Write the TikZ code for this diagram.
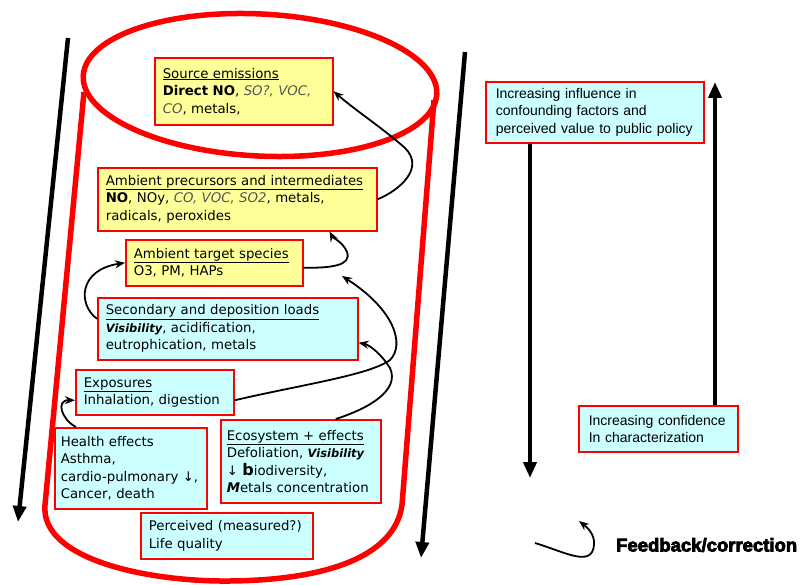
\documentclass[tikz,border=0pt]{standalone}
\usepackage{fontspec}
\setmainfont{DejaVu Sans}
\newfontfamily\arialfont{Liberation Sans}
\newfontfamily\heavyfont{Liberation Sans}[BoldFont={Liberation Sans Bold},BoldFeatures={FakeBold=4}]
\usetikzlibrary{arrows.meta}
\definecolor{boxyellow}{HTML}{FFFF99}
\definecolor{boxcyan}{HTML}{CCFFFF}
\definecolor{softtext}{HTML}{555555}
\newcommand{\vis}{{\fontsize{11.5}{17.5}\selectfont\bfseries\itshape Visibility}}

\begin{document}
\begin{tikzpicture}[x=1pt,y=-1pt,
  box/.style={draw=red,line width=1.6pt,anchor=north west,align=left,inner xsep=8pt,inner ysep=2pt,font=\fontsize{13.3}{17.5}\selectfont},
  ybox/.style={box,fill=boxyellow},
  cbox/.style={box,fill=boxcyan},
  rbox/.style={cbox,inner xsep=10pt,font=\arialfont\fontsize{14}{17.5}\selectfont},
  fb/.style={line width=1.8pt,-{Stealth[length=10pt,width=8pt]}},
  bigarrow/.style={line width=4.5pt,-{Triangle[length=16pt,width=13pt]}}]
  \useasboundingbox (0,0) rectangle (801,585);
  % cylinder
  \draw[red,line width=5.5pt] (260,85) ellipse [x radius=177,y radius=71,rotate=-3];
  \draw[red,line width=5.5pt,line join=round] (84,92) -- (45,505) .. controls (40,560) and (150,582) .. (230,581) .. controls (330,580) and (395,555) .. (402,505) -- (434,100);
  % long arrows beside the cylinder
  \coordinate (ltop) at (68,38);  \coordinate (lbot) at (18,522);
  \coordinate (rtop) at (465,52); \coordinate (rbot) at (421,558);
  \draw[bigarrow] (ltop) -- (lbot);
  \draw[bigarrow] (rtop) -- (rbot);
  % boxes
  \node[ybox,text width=162pt,minimum height=67pt] (src) at (154,57)
    {\underline{Source emissions}\\ \textbf{Direct NO}, {\color{softtext}\itshape SO?, VOC,}\\ {\color{softtext}\itshape CO}, metals,};
  \node[ybox,text width=263pt,minimum height=63pt] (prec) at (97,167)
    {\underline{Ambient precursors and intermediates}\\ \textbf{NO}, NOy, {\color{softtext}\itshape CO, VOC, SO2}, metals,\\ radicals, peroxides};
  \node[ybox,text width=161pt,minimum height=46pt] (tgt) at (125,239)
    {\underline{Ambient target species}\\ O3, PM, HAPs};
  \node[cbox,text width=244pt,minimum height=62pt] (sec) at (97,297)
    {\underline{Secondary and deposition loads}\\ \vis, acidification,\\ eutrophication, metals};
  \node[cbox,text width=142pt,minimum height=45pt] (expo) at (75,369)
    {\underline{Exposures}\\ Inhalation, digestion};
  \node[cbox,inner xsep=6pt,text width=140pt,minimum height=81pt] (health) at (54,427)
    {Health effects\\ Asthma,\\ \mbox{cardio-pulmonary~↓,}\\ Cancer, death};
  \node[cbox,inner xsep=6pt,text width=148pt,minimum height=83pt] (eco) at (220,419)
    {\underline{Ecosystem + effects}\\ Defoliation, \vis\\ ↓ {\fontsize{16}{17.5}\selectfont\bfseries b}iodiversity,\\ {\bfseries\itshape M}etals concentration};
  \node[cbox,text width=156pt,minimum height=46pt] (perc) at (140,512)
    {Perceived (measured?)\\ Life quality};
  \node[rbox,text width=198pt,minimum height=61pt] (infl) at (485,81)
    {Increasing influence in\\ confounding factors and\\ perceived value to public policy};
  \node[rbox,text width=139pt,minimum height=46pt] (conf) at (578,405)
    {Increasing confidence\\ In characterization};
  % arrows on the right
  \coordinate (downend) at (530,478);
  \coordinate (uptop) at (715,82);
  \draw[bigarrow] (infl.south -| downend) -- (downend);
  \draw[bigarrow] (conf.north -| uptop) -- (uptop);
  % feedback loops
  \coordinate (tgtin) at (342,276);
  \draw[fb] (prec.east) .. controls (400,190) and (425,168) .. (405,148) .. controls (385,130) and (355,110) .. (src.east);
  \draw[fb] ([yshift=-5pt]tgt.east) .. controls (330,268) and (352,266) .. (347,252) .. controls (343,242) and (333,238) .. ([xshift=-48pt]prec.south east);
  \draw[fb] ([yshift=10pt]sec.west) .. controls (78,305) and (78,270) .. (tgt.west);
  \draw[fb] ([yshift=-8pt]expo.east) .. controls (300,385) and (370,375) .. (390,360) .. controls (405,345) and (395,310) .. (tgtin);
  \draw[fb] ([xshift=35pt]eco.north) .. controls (370,408) and (400,390) .. (390,368) .. controls (382,355) and (370,345) .. ([yshift=-14pt]sec.east);
  \draw[fb] ([xshift=22pt]health.north west) .. controls (62,420) and (55,400) .. ([yshift=-8pt]expo.west);
  % legend
  \coordinate (fbfrom) at (535,543);
  \coordinate (fbto) at (579,521);
  \draw[fb] (fbfrom) .. controls (565,552) and (592,568) .. (594,545) .. controls (595,535) and (588,528) .. (fbto);
  \node[anchor=west,inner sep=0pt,font=\heavyfont\bfseries\fontsize{18.5}{18.5}\selectfont] (fbtext) at (616,545) {Feedback/correction};
\end{tikzpicture}
\end{document}
